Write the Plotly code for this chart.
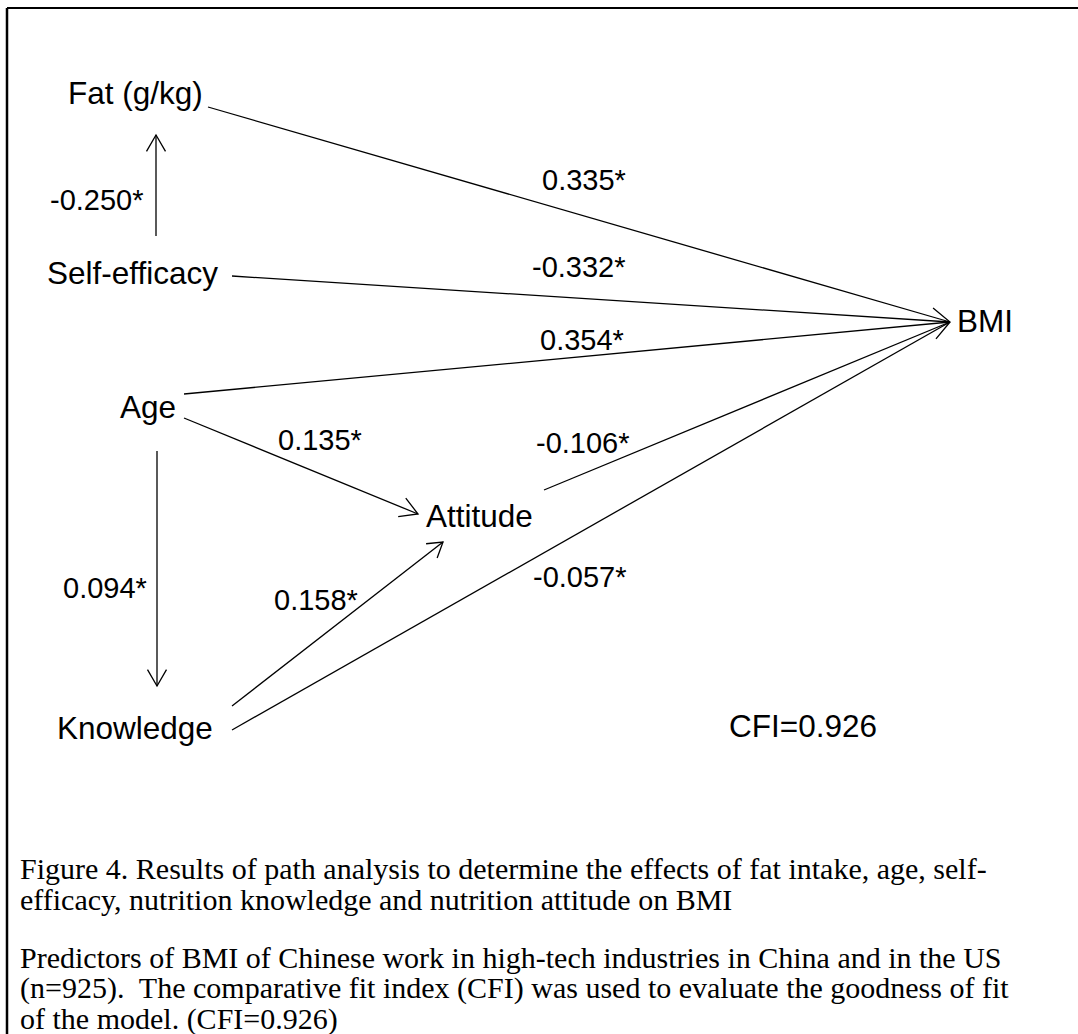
import numpy as np
import plotly.graph_objects as go

# ---------------- data ----------------
node_names = ["Fat (g/kg)", "Self-efficacy", "Age", "Attitude", "Knowledge", "BMI"]
edge_from = ["Self-efficacy", "Fat (g/kg)", "Self-efficacy", "Age", "Age",
             "Age", "Knowledge", "Attitude", "Knowledge"]
edge_to = ["Fat (g/kg)", "BMI", "BMI", "BMI", "Attitude",
           "Knowledge", "Attitude", "BMI", "BMI"]
coefficients = [-0.250, 0.335, -0.332, 0.354, 0.135, 0.094, 0.158, -0.106, -0.057]
significant = [True, True, True, True, True, True, True, True, True]
fit_name = "CFI"
fit_value = 0.926
caption_lines = [
    "Figure 4. Results of path analysis to determine the effects of fat intake, age, self-",
    "efficacy, nutrition knowledge and nutrition attitude on BMI",
    "Predictors of BMI of Chinese work in high-tech industries in China and in the US",
    "(n=925).\u00a0 The comparative fit index (CFI) was used to evaluate the goodness of fit",
    "of the model. (CFI=0.926)",
]

# ---------------- layout (pixel space of the diagram) ----------------
W, H = 1078, 1034
node_pos = {
    "Fat (g/kg)": (135, 93),
    "Self-efficacy": (132, 273),
    "Age": (148, 407),
    "Attitude": (479, 516),
    "Knowledge": (135, 728),
    "BMI": (985, 321),
}
# start / end anchor of each path (next to the text of the nodes)
edge_start = [(156, 236), (208, 107), (232, 276), (184, 394), (184, 418),
              (157, 451), (232, 706), (544, 490), (232, 730)]
edge_end = [(156, 135), (950, 322), (950, 322), (950, 322), (418, 514),
            (157, 686), (443, 542), (950, 322), (950, 322)]
edge_head = [(30, 19), None, None, (45, 22), (30, 20), (30, 19), (32, 17), None, None]
coef_pos = [(97, 200), (584, 180), (579, 267), (582, 340), (320, 440),
            (105, 588), (316, 600), (583, 443), (580, 577)]
fit_pos = (803, 726)
caption_x = 18
caption_y = [868, 899, 957, 988, 1019]

SANS = "Liberation Sans, Arial, Helvetica, sans-serif"
SERIF = "Liberation Serif, Times New Roman, serif"
LINE = dict(color="black", width=1.3)
NODE_SIZE = 31.5
COEF_SIZE = 29
CAPTION_SIZE = 30

fig = go.Figure()

# paths
for (x0, y0), (x1, y1), head in zip(edge_start, edge_end, edge_head):
    fig.add_trace(go.Scatter(x=[x0, x1], y=[y0, y1], mode="lines", line=LINE,
                             hoverinfo="skip", showlegend=False))
    if head is not None:
        ang, length = head
        d = np.array([x1 - x0, y1 - y0], dtype=float)
        d /= np.linalg.norm(d)
        xs, ys = [], []
        for sgn in (1, -1):
            t = np.deg2rad(sgn * ang)
            r = np.array([d[0] * np.cos(t) - d[1] * np.sin(t),
                          d[0] * np.sin(t) + d[1] * np.cos(t)])
            p = np.array([x1, y1]) - length * r
            xs += [p[0], x1]
            ys += [p[1], y1]
        fig.add_trace(go.Scatter(x=[xs[0], xs[1], xs[2]], y=[ys[0], ys[1], ys[2]],
                                 mode="lines", line=LINE, hoverinfo="skip",
                                 showlegend=False))

# node labels
for name in node_names:
    x, y = node_pos[name]
    fig.add_annotation(x=x, y=y, text=name, showarrow=False, xanchor="center",
                       yanchor="middle",
                       font=dict(family=SANS, size=NODE_SIZE, color="black"))

# coefficient labels
for c, s, (x, y) in zip(coefficients, significant, coef_pos):
    txt = f"{c:.3f}" + ("*" if s else "")
    fig.add_annotation(x=x, y=y, text=txt, showarrow=False, xanchor="center",
                       yanchor="middle",
                       font=dict(family=SANS, size=COEF_SIZE, color="black"))

fig.add_annotation(x=fit_pos[0], y=fit_pos[1], text=f"{fit_name}={fit_value:.3f}",
                   showarrow=False, xanchor="center", yanchor="middle",
                   font=dict(family=SANS, size=NODE_SIZE, color="black"))

# caption
for line, y in zip(caption_lines, caption_y):
    fig.add_annotation(x=caption_x, y=y, text=line, showarrow=False, xanchor="left",
                       yanchor="middle",
                       font=dict(family=SERIF, size=CAPTION_SIZE, color="black"))

# frame (top and left rules)
fig.add_shape(type="line", x0=7, x1=W, y0=8, y1=8, line=dict(color="black", width=2))
fig.add_shape(type="line", x0=7, x1=7, y0=8, y1=H, line=dict(color="black", width=2.5))

fig.update_layout(
    width=W, height=H, autosize=False,
    margin=dict(l=0, r=0, t=0, b=0),
    paper_bgcolor="white", plot_bgcolor="white",
    xaxis=dict(range=[0, W], visible=False, fixedrange=True),
    yaxis=dict(range=[H, 0], visible=False, fixedrange=True),
    showlegend=False,
)

fig.write_html(
    "out.html",
    config={"displayModeBar": False, "staticPlot": True},
    post_script="document.body.style.margin='0';document.body.style.overflow='hidden';",
)
